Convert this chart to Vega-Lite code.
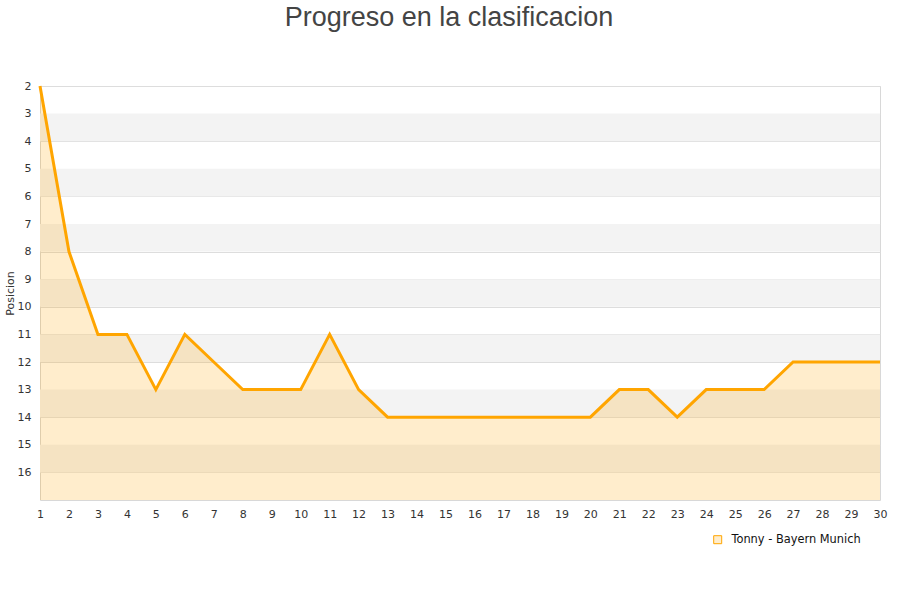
{
  "$schema": "https://vega.github.io/schema/vega-lite/v6.json",
  "width": 840,
  "height": 414,
  "autosize": {"type": "none"},
  "padding": {"left": 40, "top": 86, "right": 20, "bottom": 100},
  "background": "white",
  "title": {
    "text": "Progreso en la clasificacion",
    "font": "Liberation Sans",
    "fontSize": 27,
    "fontWeight": "normal",
    "color": "#444444",
    "anchor": "middle",
    "offset": 58,
    "dx": -11,
    "dy": 10
  },
  "config": {
    "view": {"stroke": "#d8d8d8", "strokeWidth": 1},
    "axis": {"labelFont": "DejaVu Sans", "labelFontSize": 11, "labelColor": "#333333", "titleFont": "DejaVu Sans", "labelOverlap": false},
    "axisQuantitative": {"labelOverlap": false}
  },
  "datasets": {
    "serie": [
      {"jornada": 1, "posicion": 2, "equipo": "Tonny - Bayern Munich"},
      {"jornada": 2, "posicion": 8, "equipo": "Tonny - Bayern Munich"},
      {"jornada": 3, "posicion": 11, "equipo": "Tonny - Bayern Munich"},
      {"jornada": 4, "posicion": 11, "equipo": "Tonny - Bayern Munich"},
      {"jornada": 5, "posicion": 13, "equipo": "Tonny - Bayern Munich"},
      {"jornada": 6, "posicion": 11, "equipo": "Tonny - Bayern Munich"},
      {"jornada": 7, "posicion": 12, "equipo": "Tonny - Bayern Munich"},
      {"jornada": 8, "posicion": 13, "equipo": "Tonny - Bayern Munich"},
      {"jornada": 9, "posicion": 13, "equipo": "Tonny - Bayern Munich"},
      {"jornada": 10, "posicion": 13, "equipo": "Tonny - Bayern Munich"},
      {"jornada": 11, "posicion": 11, "equipo": "Tonny - Bayern Munich"},
      {"jornada": 12, "posicion": 13, "equipo": "Tonny - Bayern Munich"},
      {"jornada": 13, "posicion": 14, "equipo": "Tonny - Bayern Munich"},
      {"jornada": 14, "posicion": 14, "equipo": "Tonny - Bayern Munich"},
      {"jornada": 15, "posicion": 14, "equipo": "Tonny - Bayern Munich"},
      {"jornada": 16, "posicion": 14, "equipo": "Tonny - Bayern Munich"},
      {"jornada": 17, "posicion": 14, "equipo": "Tonny - Bayern Munich"},
      {"jornada": 18, "posicion": 14, "equipo": "Tonny - Bayern Munich"},
      {"jornada": 19, "posicion": 14, "equipo": "Tonny - Bayern Munich"},
      {"jornada": 20, "posicion": 14, "equipo": "Tonny - Bayern Munich"},
      {"jornada": 21, "posicion": 13, "equipo": "Tonny - Bayern Munich"},
      {"jornada": 22, "posicion": 13, "equipo": "Tonny - Bayern Munich"},
      {"jornada": 23, "posicion": 14, "equipo": "Tonny - Bayern Munich"},
      {"jornada": 24, "posicion": 13, "equipo": "Tonny - Bayern Munich"},
      {"jornada": 25, "posicion": 13, "equipo": "Tonny - Bayern Munich"},
      {"jornada": 26, "posicion": 13, "equipo": "Tonny - Bayern Munich"},
      {"jornada": 27, "posicion": 12, "equipo": "Tonny - Bayern Munich"},
      {"jornada": 28, "posicion": 12, "equipo": "Tonny - Bayern Munich"},
      {"jornada": 29, "posicion": 12, "equipo": "Tonny - Bayern Munich"},
      {"jornada": 30, "posicion": 12, "equipo": "Tonny - Bayern Munich"}
    ],
    "bandas": [
      {"desde": 3, "hasta": 4},
      {"desde": 5, "hasta": 6},
      {"desde": 7, "hasta": 8},
      {"desde": 9, "hasta": 10},
      {"desde": 11, "hasta": 12},
      {"desde": 13, "hasta": 14},
      {"desde": 15, "hasta": 16}
    ]
  },
  "resolve": {"scale": {"y": "shared"}},
  "layer": [
    {
      "data": {"name": "bandas"},
      "mark": {"type": "rect", "fill": "#f3f3f3"},
      "encoding": {
        "y": {"field": "desde", "type": "quantitative", "scale": {"domain": [2, 17], "reverse": true, "nice": false, "zero": false},
              "axis": {"values": [2,3,4,5,6,7,8,9,10,11,12,13,14,15,16], "labelOverlap": false, "labelFlush": false, "title": "Posicion", "titleFontSize": 11, "titleFontWeight": "normal", "titleColor": "#333333", "titleX": -30, "titleY": 207, "titleAngle": -90, "titleAlign": "center", "titleBaseline": "middle", "grid": true, "gridColor": "#dddddd", "domain": false, "ticks": false, "labelPadding": 9}},
        "y2": {"field": "hasta"}
      }
    },
    {
      "data": {"name": "serie"},
      "mark": {"type": "area", "color": "#FFA500", "opacity": 0.2},
      "encoding": {
        "x": {"field": "jornada", "type": "quantitative", "scale": {"domain": [1, 30], "nice": false, "zero": false},
              "axis": {"values": [1,2,3,4,5,6,7,8,9,10,11,12,13,14,15,16,17,18,19,20,21,22,23,24,25,26,27,28,29,30], "labelOverlap": false, "labelFlush": false, "title": null, "grid": false, "domain": false, "ticks": false, "labelPadding": 8}},
        "y": {"field": "posicion", "type": "quantitative", "scale": {"domain": [2, 17], "reverse": true, "nice": false, "zero": false},
              "axis": {"values": [2,3,4,5,6,7,8,9,10,11,12,13,14,15,16], "labelOverlap": false, "labelFlush": false, "title": "Posicion", "titleFontSize": 11, "titleFontWeight": "normal", "titleColor": "#333333", "titleX": -30, "titleY": 207, "titleAngle": -90, "titleAlign": "center", "titleBaseline": "middle", "grid": true, "gridColor": "#dddddd", "domain": false, "ticks": false, "labelPadding": 9}},
        "y2": {"datum": 17}
      }
    },
    {
      "data": {"name": "serie"},
      "mark": {"type": "line", "strokeWidth": 3},
      "encoding": {
        "x": {"field": "jornada", "type": "quantitative", "scale": {"domain": [1, 30], "nice": false, "zero": false},
              "axis": {"values": [1,2,3,4,5,6,7,8,9,10,11,12,13,14,15,16,17,18,19,20,21,22,23,24,25,26,27,28,29,30], "labelOverlap": false, "labelFlush": false, "title": null, "grid": false, "domain": false, "ticks": false, "labelPadding": 8}},
        "y": {"field": "posicion", "type": "quantitative", "scale": {"domain": [2, 17], "reverse": true, "nice": false, "zero": false},
              "axis": {"values": [2,3,4,5,6,7,8,9,10,11,12,13,14,15,16], "labelOverlap": false, "labelFlush": false, "title": "Posicion", "titleFontSize": 11, "titleFontWeight": "normal", "titleColor": "#333333", "titleX": -30, "titleY": 207, "titleAngle": -90, "titleAlign": "center", "titleBaseline": "middle", "grid": true, "gridColor": "#dddddd", "domain": false, "ticks": false, "labelPadding": 9}},
        "color": {"field": "equipo", "type": "nominal", "scale": {"range": ["#FFA500"]},
                  "legend": {"title": null, "orient": "none", "legendX": 672, "legendY": 448, "symbolType": "square", "symbolSize": 64, "labelFont": "DejaVu Sans", "labelFontSize": 11.4, "labelColor": "#111111", "labelOffset": 8,
                             "encode": {"symbols": {"update": {"stroke": {"value": "#555555"}, "fill": {"value": "#FFEDCC"}, "strokeWidth": {"value": 1}, "opacity": {"value": 1}}}}}}
      }
    }
  ]
}
